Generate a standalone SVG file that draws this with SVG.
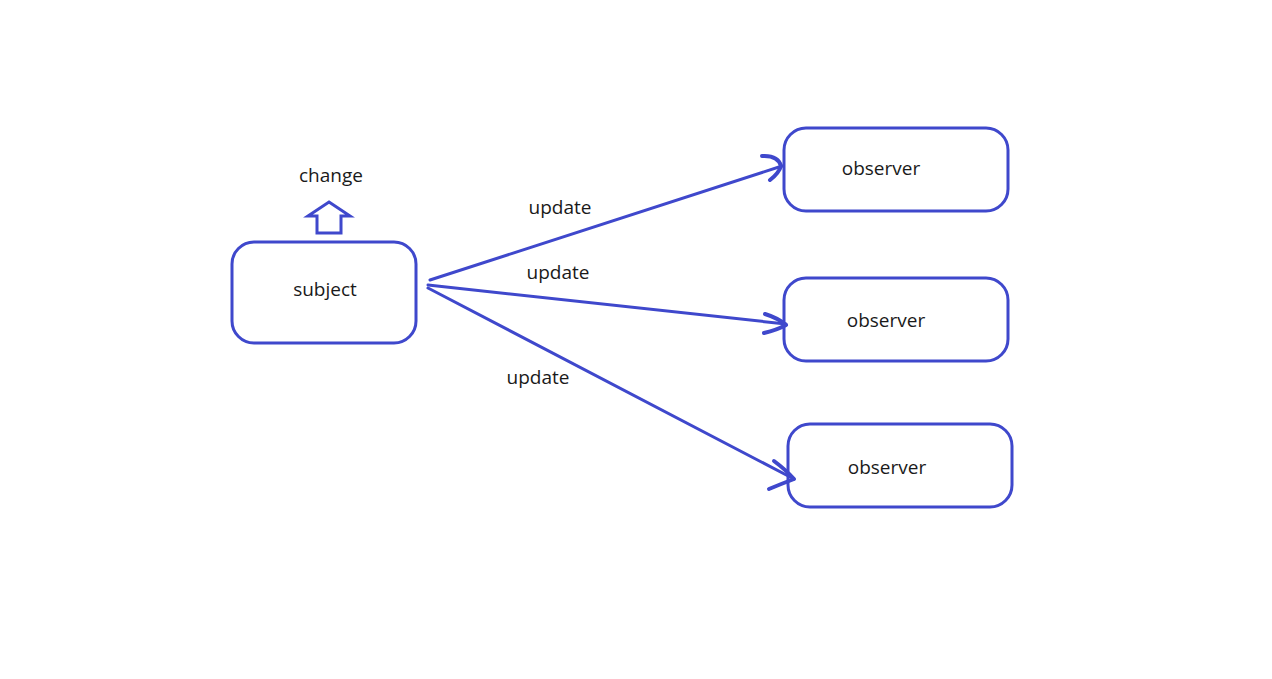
<svg xmlns="http://www.w3.org/2000/svg" width="1272" height="679" viewBox="0 0 1272 679">
<style>
.box{fill:#fff;stroke:#3f48cc;stroke-width:3}
.ln{fill:none;stroke:#3f48cc;stroke-width:3;stroke-linecap:round;stroke-linejoin:round}
.hd{fill:none;stroke:#3f48cc;stroke-width:4;stroke-linecap:round;stroke-linejoin:round}
text{font-family:"Open Sans","Noto Sans","Liberation Sans",sans-serif;font-size:19px;fill:#1a1a1a}
</style>
<rect width="1272" height="679" fill="#fff"/>
<g id="subject">
<rect class="box" x="232" y="242" width="184" height="101" rx="22"/>
<text x="325" y="296" text-anchor="middle">subject</text>
</g>
<g id="change">
<path class="box" stroke-width="2.5" d="M329,202 L350,216 L341,216 L341,233 L317,233 L317,216 L308,216 Z"/>
<text x="331" y="182" text-anchor="middle">change</text>
</g>
<g id="observer1">
<rect class="box" x="784" y="128" width="224" height="83" rx="22"/>
<text x="881" y="175" text-anchor="middle">observer</text>
</g>
<g id="observer2">
<rect class="box" x="784" y="278" width="224" height="83" rx="22"/>
<text x="886" y="327" text-anchor="middle">observer</text>
</g>
<g id="observer3">
<rect class="box" x="788" y="424" width="224" height="83" rx="22"/>
<text x="887" y="474" text-anchor="middle">observer</text>
</g>
<g id="connectors">
<path class="ln" d="M430,280 L782,166"/>
<path class="hd" d="M762,156 Q778,155 781,166 Q779,173 770,180"/>
<path class="ln" d="M428,285 L786,324"/>
<path class="hd" d="M765,314 Q778,318 786,325 Q777,330 764,333"/>
<path class="ln" d="M428,288 L794,479"/>
<path class="hd" d="M774,461 Q786,470 794,479 Q781,484 769,489"/>
<text x="560" y="214" text-anchor="middle">update</text>
<text x="558" y="279" text-anchor="middle">update</text>
<text x="538" y="384" text-anchor="middle">update</text>
</g>
</svg>
